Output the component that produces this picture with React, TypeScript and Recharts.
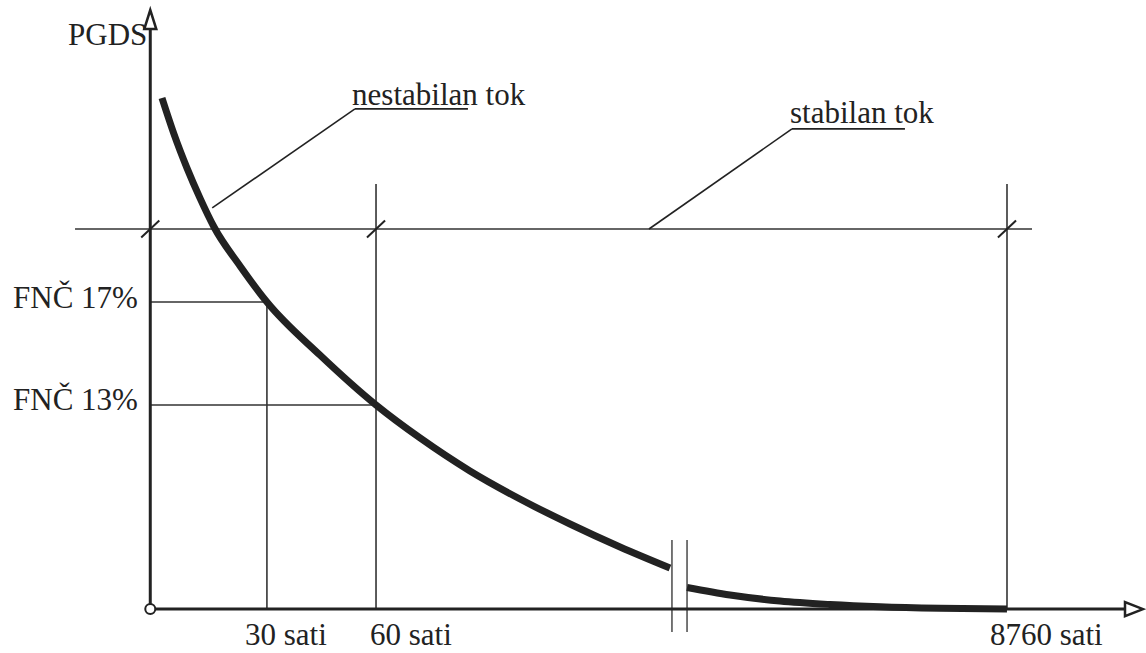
import { LineChart, Line, XAxis, YAxis, ReferenceLine, ReferenceDot } from "recharts";

// Schematic diagram: x runs 0..100 along a broken time axis, y 0..100 along PGDS.
const unstableX = [1.18, 2.39, 3.7, 5.01, 6.42, 9.04, 11.75, 17.09, 22.74, 27.17, 32.2, 37.24, 42.28, 47.32, 52.35];
const unstableY = [85.31, 79.28, 73.61, 68.6, 63.78, 57.27, 51.26, 42.4, 34.06, 28.56, 23.05, 18.37, 14.2, 10.36, 6.85];
const stableX = [54.07, 58.4, 63.43, 68.47, 73.51, 79.55, 86.3];
const stableY = [3.6, 2.35, 1.34, 0.76, 0.38, 0.13, 0];

const hourLabels = ["30 sati", "60 sati", "8760 sati"];
const hourLines = [11.75, 22.74, 86.3];
const hourLabelX = [9.54, 22.13, 84.58];

const fncLabels = ["FNČ 17%", "FNČ 13%"];
const fncLevels = [51.26, 34.06];
const fncLabelY = [50.26, 33.23];

const stableLevel = 63.44;
const lineTop = 70.96;
const breakX = [52.55, 54.07];

const unstableData = unstableX.map((x, i) => ({ x, y: unstableY[i] }));
const stableData = stableX.map((x, i) => ({ x, y: stableY[i] }));

const INK = "#222";
const THIN = "#333";
const FONT = '"Liberation Serif", "Times New Roman", "DejaVu Serif", serif';

const textShape = (label: string, anchor: "start" | "end") => (props: any) => (
  <text
    x={props.cx}
    y={props.cy}
    textAnchor={anchor}
    style={{ fontFamily: FONT, fontSize: 31 }}
    fill={INK}
  >
    {label}
  </text>
);

const upArrow = (props: any) => (
  <polygon
    points={`${props.cx},${props.cy} ${props.cx - 6},${props.cy + 19} ${props.cx + 6},${props.cy + 19}`}
    fill="#fff"
    stroke={INK}
    strokeWidth={2.5}
  />
);

const rightArrow = (props: any) => (
  <polygon
    points={`${props.cx},${props.cy} ${props.cx - 18},${props.cy - 7} ${props.cx - 18},${props.cy + 7}`}
    fill="#fff"
    stroke={INK}
    strokeWidth={2.5}
  />
);

const seg = (x1: number, y1: number, x2: number, y2: number) => [
  { x: x1, y: y1 },
  { x: x2, y: y2 },
];

export default function App() {
  const slashes = [0, hourLines[1], hourLines[2]];
  return (
    <div style={{ position: "absolute", left: 0, top: 0, background: "#fff" }}>
      <LineChart width={1146} height={653} margin={{ top: 10, right: 3, bottom: 2, left: 51 }}>
        <XAxis type="number" dataKey="x" domain={[-10, 100]} hide allowDataOverflow />
        <YAxis type="number" dataKey="y" domain={[-7, 100]} hide allowDataOverflow />

        {/* stable-flow level and guide lines */}
        <ReferenceLine segment={seg(-7.58, stableLevel, 88.82, stableLevel)} stroke={THIN} strokeWidth={1.6} />
        {hourLines.map((x, i) => (
          <ReferenceLine
            key={"v" + i}
            segment={seg(x, 0, x, i === 0 ? fncLevels[0] : lineTop)}
            stroke={THIN}
            strokeWidth={1.6}
          />
        ))}
        {fncLevels.map((y, i) => (
          <ReferenceLine key={"h" + i} segment={seg(0, y, hourLines[i], y)} stroke={THIN} strokeWidth={1.6} />
        ))}
        {slashes.map((x, i) => (
          <ReferenceLine
            key={"s" + i}
            segment={seg(x - 0.91, stableLevel - 1.42, x + 0.91, stableLevel + 1.42)}
            stroke={INK}
            strokeWidth={2}
          />
        ))}
        {breakX.map((x, i) => (
          <ReferenceLine key={"b" + i} segment={seg(x, 11.53, x, -3.83)} stroke="#555" strokeWidth={1.6} />
        ))}

        {/* leaders to the annotations */}
        <ReferenceLine segment={seg(6.24, 66.96, 20.62, 83.5)} stroke={INK} strokeWidth={1.6} />
        <ReferenceLine segment={seg(20.62, 83.5, 32.0, 83.5)} stroke={INK} strokeWidth={1.6} />
        <ReferenceLine segment={seg(50.24, stableLevel, 64.64, 80.16)} stroke={INK} strokeWidth={1.6} />
        <ReferenceLine segment={seg(64.64, 80.16, 76.02, 80.16)} stroke={INK} strokeWidth={1.6} />

        {/* axes */}
        <ReferenceLine segment={seg(0, 0.8, 0, 96.8)} stroke={INK} strokeWidth={3} />
        <ReferenceLine segment={seg(0.5, 0, 98.2, 0)} stroke={INK} strokeWidth={3} />

        <Line
          data={unstableData}
          dataKey="y"
          type="monotone"
          stroke={INK}
          strokeWidth={7}
          dot={false}
          isAnimationActive={false}
        />
        <Line
          data={stableData}
          dataKey="y"
          type="monotone"
          stroke={INK}
          strokeWidth={7}
          dot={false}
          isAnimationActive={false}
        />

        <ReferenceDot x={0} y={100} r={1} shape={upArrow} />
        <ReferenceDot x={100} y={0} r={1} shape={rightArrow} ifOverflow="visible" />
        <ReferenceDot x={0} y={0} r={5} fill="#fff" stroke={INK} strokeWidth={2} />

        {/* texts */}
        <ReferenceDot x={-0.3} y={94.17} r={0} shape={textShape("PGDS", "end")} />
        <ReferenceDot x={20.33} y={84.15} r={0} shape={textShape("nestabilan tok", "start")} />
        <ReferenceDot x={64.44} y={81.15} r={0} shape={textShape("stabilan tok", "start")} />
        {fncLabels.map((t, i) => (
          <ReferenceDot key={"f" + i} x={-1.24} y={fncLabelY[i]} r={0} shape={textShape(t, "end")} />
        ))}
        {hourLabels.map((t, i) => (
          <ReferenceDot key={"t" + i} x={hourLabelX[i]} y={-6.0} r={0} shape={textShape(t, "start")} />
        ))}
      </LineChart>
    </div>
  );
}
